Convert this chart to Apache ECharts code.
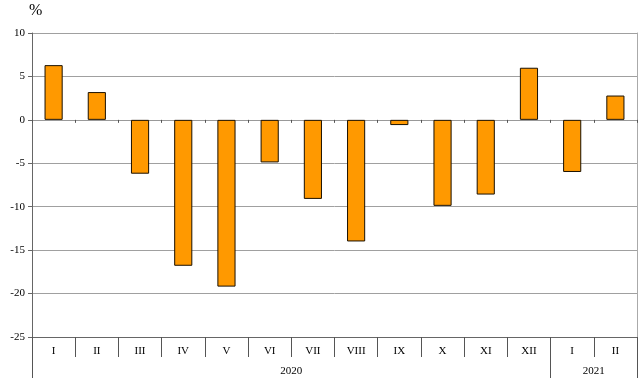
<!DOCTYPE html>
<html>
<head>
<meta charset="utf-8">
<script src="https://cdn.jsdelivr.net/npm/echarts@6/dist/echarts.min.js"></script>
<style>
html,body{margin:0;padding:0;background:#fff;}
#c{width:641px;height:391px;}
</style>
</head>
<body>
<div id="c"></div>
<script>
var months = ['I','II','III','IV','V','VI','VII','VIII','IX','X','XI','XII','I','II'];
var values = [6.3, 3.2, -6.2, -16.8, -19.2, -4.9, -9.1, -14.0, -0.6, -9.9, -8.6, 6.0, -6.0, 2.8];
var yearLabels = ['2020', '2021'];
var yearCenters = [6, 13];
var yearBounds = [0, 12, 14];
var yTicks = {min: -25, max: 10, interval: 5};

var font = 'Liberation Serif';
var chart = echarts.init(document.getElementById('c'), null, {renderer: 'canvas'});
chart.setOption({
  animation: false,
  backgroundColor: '#fff',
  graphic: [{
    type: 'text', left: 29, top: 3,
    style: {text: '%', font: '16px "Liberation Serif"', fill: '#000'}
  }],
  grid: {left: 32, right: 4, top: 33, bottom: 54, containLabel: false},
  xAxis: [{
    type: 'category',
    data: months,
    position: 'bottom',
    axisLine: {onZero: false, lineStyle: {color: '#666', width: 1}},
    axisTick: {show: true, interval: 0, length: 20, lineStyle: {color: '#555'}},
    axisLabel: {interval: 0, margin: 9, color: '#000', fontFamily: font, fontSize: 11},
    splitLine: {show: false}
  }, {
    type: 'category',
    data: months,
    position: 'top',
    axisLine: {show: true, onZero: true, lineStyle: {color: '#999', width: 1}},
    axisTick: {show: true, interval: 0, inside: true, length: 3, lineStyle: {color: '#555'}},
    axisLabel: {show: false},
    splitLine: {show: false}
  }, {
    type: 'value',
    min: 0, max: 14,
    position: 'bottom',
    axisLine: {show: false, onZero: false},
    axisTick: {show: true, customValues: yearBounds, length: 41, lineStyle: {color: '#555'}},
    axisLabel: {
      customValues: yearCenters, margin: 29, color: '#000', fontFamily: font, fontSize: 11,
      formatter: function (v) { var i = yearCenters.indexOf(v); return i >= 0 ? yearLabels[i] : ''; }
    },
    splitLine: {show: false}
  }],
  yAxis: [{
    type: 'value',
    min: yTicks.min, max: yTicks.max, interval: yTicks.interval,
    axisLine: {show: true, lineStyle: {color: '#666'}},
    axisTick: {show: true, length: 4, lineStyle: {color: '#666'}},
    axisLabel: {margin: 7, color: '#000', fontFamily: font, fontSize: 11},
    splitLine: {show: true, lineStyle: {color: '#a0a0a0', width: 1}}
  }, {
    type: 'value',
    position: 'right',
    min: yTicks.min, max: yTicks.max, interval: yTicks.interval,
    axisLine: {show: true, lineStyle: {color: '#aaa'}},
    axisTick: {show: false},
    axisLabel: {show: false},
    splitLine: {show: false}
  }],
  series: [{
    type: 'bar',
    xAxisIndex: 0,
    yAxisIndex: 0,
    data: values,
    barWidth: '42%',
    itemStyle: {color: '#FF9900', borderColor: '#1a1000', borderWidth: 1}
  }]
});
</script>
</body>
</html>
